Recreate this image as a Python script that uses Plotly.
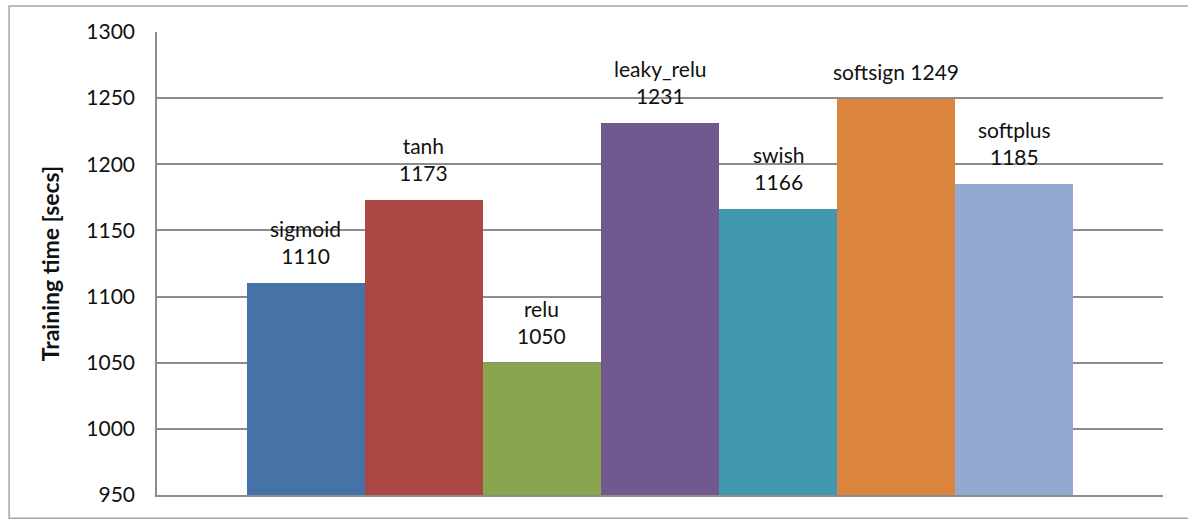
import plotly.graph_objects as go

# Training time per activation function
activations = ["sigmoid", "tanh", "relu", "leaky_relu", "swish", "softsign", "softplus"]
train_secs = [1110, 1173, 1050, 1231, 1166, 1249, 1185]
bar_colors = ["#4572A7", "#AA4643", "#89A54E", "#71588F", "#4198AF", "#DB843D", "#93A9CF"]
label_breaks = ["<br>", "<br>", "<br>", "<br>", "<br>", " ", "<br>"]
y_ticks = [950, 1000, 1050, 1100, 1150, 1200, 1250, 1300]

FONT = "Lato"

fig = go.Figure()
fig.add_trace(go.Bar(
    x=activations,
    y=train_secs,
    base=0,
    marker=dict(color=bar_colors, line=dict(width=0)),
    width=1.0,
    hoverinfo="x+y",
))

# value labels above each bar
for name, val, br in zip(activations, train_secs, label_breaks):
    fig.add_annotation(
        x=name, y=val, xref="x", yref="y",
        text=f"{name}{br}{val}",
        showarrow=False, yanchor="bottom", xanchor="center",
        yshift=13,
        font=dict(family=FONT, size=21, color="#111111"),
    )

# outer chart frame
fig.add_shape(
    type="rect", xref="paper", yref="paper",
    x0=-0.147, x1=1.04, y0=-0.05, y1=1.056,
    line=dict(color="#a6a6a6", width=1.5), fillcolor="rgba(0,0,0,0)",
    layer="below",
)

fig.update_layout(
    width=1188, height=520,
    margin=dict(l=157, r=25, t=32, b=25),
    paper_bgcolor="white", plot_bgcolor="white",
    showlegend=False,
    bargap=0,
    font=dict(family=FONT, color="#111111"),
    xaxis=dict(
        type="category",
        range=[-1.26, 7.26],
        showticklabels=False,
        showgrid=False,
        zeroline=False,
        showline=True, linecolor="#8c8c8c", linewidth=1.5,
        ticks="",
        fixedrange=True,
    ),
    yaxis=dict(
        range=[950, 1300],
        tickvals=y_ticks,
        ticktext=[str(v) for v in y_ticks],
        tickfont=dict(family=FONT, size=21, color="#111111"),
        showgrid=True, gridcolor="#8c8c8c", gridwidth=1.5,
        showline=True, linecolor="#8c8c8c", linewidth=1.5,
        zeroline=False,
        ticks="", ticklabelstandoff=16,
        title=dict(
            text="<b>Training time [secs]</b>",
            font=dict(family=FONT, size=23, color="#111111"),
            standoff=20,
        ),
    ),
)

fig.write_html("out.html")
